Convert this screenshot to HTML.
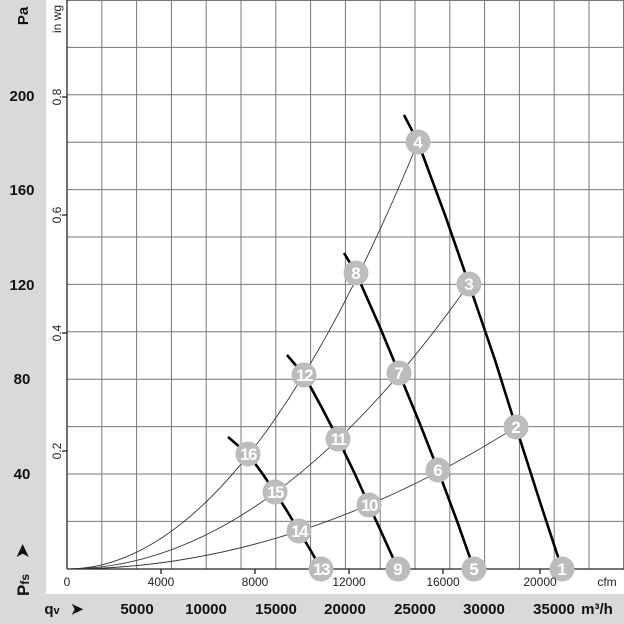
<!DOCTYPE html>
<html><head><meta charset="utf-8"><style>
html,body{margin:0;padding:0;background:#fff;}
svg{display:block;font-family:"Liberation Sans",Arial,sans-serif;}
</style></head><body>
<svg width="624" height="624" viewBox="0 0 624 624" xmlns="http://www.w3.org/2000/svg">
<rect x="0" y="0" width="624" height="624" fill="#fff"/>
<rect x="0" y="0" width="46" height="624" fill="#d9d9d9"/>
<rect x="0" y="594" width="624" height="30" fill="#d9d9d9"/>
<g stroke="#777" stroke-width="1">
<line x1="101.8" y1="0" x2="101.8" y2="569"/><line x1="136.6" y1="0" x2="136.6" y2="569"/><line x1="171.4" y1="0" x2="171.4" y2="569"/><line x1="206.2" y1="0" x2="206.2" y2="569"/><line x1="241" y1="0" x2="241" y2="569"/><line x1="275.8" y1="0" x2="275.8" y2="569"/><line x1="310.6" y1="0" x2="310.6" y2="569"/><line x1="345.4" y1="0" x2="345.4" y2="569"/><line x1="380.2" y1="0" x2="380.2" y2="569"/><line x1="415" y1="0" x2="415" y2="569"/><line x1="449.8" y1="0" x2="449.8" y2="569"/><line x1="484.6" y1="0" x2="484.6" y2="569"/><line x1="519.4" y1="0" x2="519.4" y2="569"/><line x1="554.2" y1="0" x2="554.2" y2="569"/><line x1="589" y1="0" x2="589" y2="569"/><line x1="623.5" y1="0" x2="623.5" y2="569"/>
<line x1="67" y1="0.5" x2="624" y2="0.5"/><line x1="67" y1="47.4" x2="624" y2="47.4"/><line x1="67" y1="94.8" x2="624" y2="94.8"/><line x1="67" y1="142.2" x2="624" y2="142.2"/><line x1="67" y1="189.6" x2="624" y2="189.6"/><line x1="67" y1="237" x2="624" y2="237"/><line x1="67" y1="284.4" x2="624" y2="284.4"/><line x1="67" y1="331.8" x2="624" y2="331.8"/><line x1="67" y1="379.2" x2="624" y2="379.2"/><line x1="67" y1="426.6" x2="624" y2="426.6"/><line x1="67" y1="474" x2="624" y2="474"/><line x1="67" y1="521.4" x2="624" y2="521.4"/>
</g>
<g stroke="#222" stroke-width="1.3">
<line x1="67" y1="0" x2="67" y2="569"/><line x1="67" y1="569" x2="624" y2="569"/>
<line x1="62" y1="97" x2="67" y2="97"/><line x1="62" y1="215" x2="67" y2="215"/><line x1="62" y1="333" x2="67" y2="333"/><line x1="62" y1="451" x2="67" y2="451"/>
<line x1="161" y1="569" x2="161" y2="574"/><line x1="255" y1="569" x2="255" y2="574"/><line x1="349" y1="569" x2="349" y2="574"/><line x1="443" y1="569" x2="443" y2="574"/><line x1="540" y1="569" x2="540" y2="574"/>
</g>
<g fill="none" stroke="#333" stroke-width="0.9">
<path d="M67,569 Q291.5,569 516,427"/>
<path d="M67,569 Q268,569 469,284"/>
<path d="M67,569 Q242.5,569 418,142"/>
</g>
<g fill="none" stroke="#000" stroke-width="2.6">
<path d="M404,115 L418,142 L445,215 L469,284 L495,360 L516,427 L541,505 L562,569"/>
<path d="M344,253 L356,273 L379,325 L399,373 L420,424 L438,470 L457,521 L474,569"/>
<path d="M287,355 L304,375 L322,408 L338,439 L354,472 L369,505 L384,538 L398,569"/>
<path d="M228,437 L248,454 L262,473 L275,492 L287,511 L299,531 L311,551 L321,569"/>
</g>
<g fill="#bcbcbc">
<circle cx="562" cy="569" r="12.5"/><circle cx="516" cy="427" r="12.5"/><circle cx="469" cy="284" r="12.5"/><circle cx="418" cy="142" r="12.5"/>
<circle cx="474" cy="569" r="12.5"/><circle cx="438" cy="470" r="12.5"/><circle cx="399" cy="373" r="12.5"/><circle cx="356" cy="273" r="12.5"/>
<circle cx="398" cy="569" r="12.5"/><circle cx="369" cy="505" r="12.5"/><circle cx="338" cy="439" r="12.5"/><circle cx="304" cy="375" r="12.5"/>
<circle cx="321" cy="569" r="12.5"/><circle cx="299" cy="531" r="12.5"/><circle cx="275" cy="492" r="12.5"/><circle cx="248" cy="454" r="12.5"/>
</g>
<g fill="#fff" font-weight="bold" font-size="17" text-anchor="middle">
<text x="562" y="575">1</text><text x="516" y="433">2</text><text x="469" y="290">3</text><text x="418" y="148">4</text>
<text x="474" y="575">5</text><text x="438" y="476">6</text><text x="399" y="379">7</text><text x="356" y="279">8</text>
<text x="398" y="575">9</text><text x="369" y="511" letter-spacing="-1.5">10</text><text x="338" y="445" letter-spacing="-1.5">11</text><text x="304" y="381" letter-spacing="-1.5">12</text>
<text x="321" y="575" letter-spacing="-1.5">13</text><text x="299" y="537" letter-spacing="-1.5">14</text><text x="275" y="498" letter-spacing="-1.5">15</text><text x="248" y="460" letter-spacing="-1.5">16</text>
</g>
<g font-size="12" fill="#222" text-anchor="middle">
<text x="67" y="586">0</text><text x="161" y="586">4000</text><text x="255" y="586">8000</text><text x="349" y="586">12000</text><text x="443" y="586">16000</text><text x="540" y="586">20000</text><text x="607" y="586">cfm</text>
<text transform="translate(61,97) rotate(-90)">0.8</text><text transform="translate(61,215) rotate(-90)">0.6</text><text transform="translate(61,333) rotate(-90)">0.4</text><text transform="translate(61,451) rotate(-90)">0.2</text>
<text transform="translate(61,19) rotate(-90)">in wg</text>
</g>
<g font-size="15" font-weight="bold" fill="#111" text-anchor="middle">
<text x="22" y="101">200</text><text x="22" y="195">160</text><text x="22" y="290">120</text><text x="22" y="384">80</text><text x="22" y="479">40</text>
<text transform="translate(28,16) rotate(-90)">Pa</text>
<text transform="translate(29,585) rotate(-90)" font-size="17">P<tspan font-size="12">fs</tspan></text>
<text transform="translate(28,551) rotate(-90)" font-size="17">➤</text>
<text x="137" y="614">5000</text><text x="206" y="614">10000</text><text x="276" y="614">15000</text><text x="345" y="614">20000</text><text x="415" y="614">25000</text><text x="484" y="614">30000</text><text x="554" y="614">35000</text>
<text x="597" y="614">m³/h</text>
<text x="52" y="614">q<tspan font-size="11">v</tspan></text>
<text x="77" y="614">➤</text>
</g>
</svg>
</body></html>
